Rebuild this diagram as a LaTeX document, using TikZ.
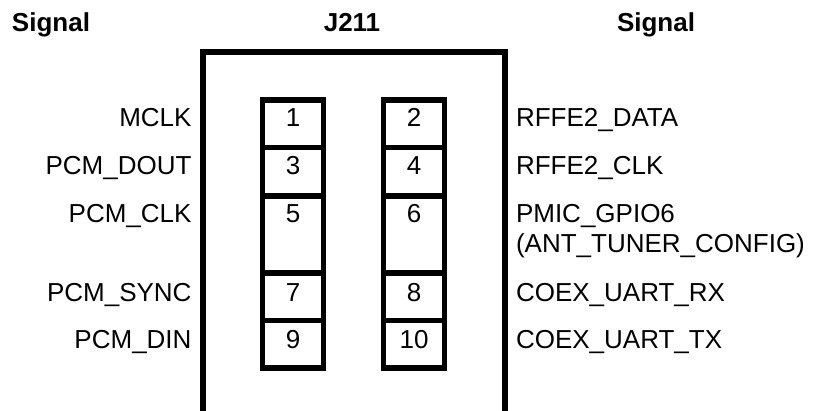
\documentclass[tikz,border=0pt]{standalone}
\usepackage{fontspec}
\setmainfont{Liberation Sans}
\begin{document}
\begin{tikzpicture}[x=1pt,y=-1pt,
  every node/.style={font=\fontsize{26}{30}\selectfont, inner sep=0pt, outer sep=0pt},
  hdr/.style={font=\fontsize{26}{30}\selectfont\bfseries, anchor=base},
  cell/.style={draw, line width=5.5pt, minimum width=61pt},
  pinnum/.style={anchor=base},
  lsig/.style={anchor=base east},
  rsig/.style={anchor=base west},
  body/.style={line width=6pt, line join=miter}]
\useasboundingbox (0,0) rectangle (814,411);

% headers
\node[hdr] (hl) at (51,32) {Signal};
\node[hdr] (hc) at (352,32) {J211};
\node[hdr] (hr) at (656,32) {Signal};

% connector body (open at bottom)
\coordinate (bl) at (203,414);
\coordinate (tl) at (203,52);
\coordinate (tr) at (505,52);
\coordinate (br) at (505,414);
\draw[body] (bl) -- (tl) -- (tr) -- (br);

% pin cells, left column
\node[cell, minimum height=47.5pt] (c1) at (293,123.75) {};
\node[cell, minimum height=48.3pt] (c3) at (293,171.65) {};
\node[cell, minimum height=77.2pt] (c5) at (293,234.4) {};
\node[cell, minimum height=47.5pt] (c7) at (293,296.75) {};
\node[cell, minimum height=47.5pt] (c9) at (293,344.25) {};
% pin cells, right column
\node[cell, minimum height=47.5pt] (c2) at (414.2,123.75) {};
\node[cell, minimum height=48.3pt] (c4) at (414.2,171.65) {};
\node[cell, minimum height=77.2pt] (c6) at (414.2,234.4) {};
\node[cell, minimum height=47.5pt] (c8) at (414.2,296.75) {};
\node[cell, minimum height=47.5pt] (c10) at (414.2,344.25) {};

% pin numbers
\node[pinnum] (n1) at (293,127) {1};
\node[pinnum] (n3) at (293,175) {3};
\node[pinnum] (n5) at (293,223) {5};
\node[pinnum] (n7) at (293,301.5) {7};
\node[pinnum] (n9) at (293,349) {9};
\node[pinnum] (n2) at (414.2,127) {2};
\node[pinnum] (n4) at (414.2,175) {4};
\node[pinnum] (n6) at (414.2,223) {6};
\node[pinnum] (n8) at (414.2,301.5) {8};
\node[pinnum] (n10) at (414.2,349) {10};

% left signals
\node[lsig] (s1) at (191.5,127) {MCLK};
\node[lsig] (s3) at (191.5,175) {PCM\_DOUT};
\node[lsig] (s5) at (191.5,223) {PCM\_CLK};
\node[lsig] (s7) at (191.5,301.5) {PCM\_SYNC};
\node[lsig] (s9) at (191.5,349) {PCM\_DIN};

% right signals
\node[rsig] (s2) at (516,127) {RFFE2\_DATA};
\node[rsig] (s4) at (516,175) {RFFE2\_CLK};
\node[rsig] (s6) at (516,223) {\begin{tabular}[t]{@{}l@{}}PMIC\_GPIO6\\(ANT\_TUNER\_CONFIG)\end{tabular}};
\node[rsig] (s8) at (516,301.5) {COEX\_UART\_RX};
\node[rsig] (s10) at (516,349) {COEX\_UART\_TX};
\end{tikzpicture}
\end{document}
